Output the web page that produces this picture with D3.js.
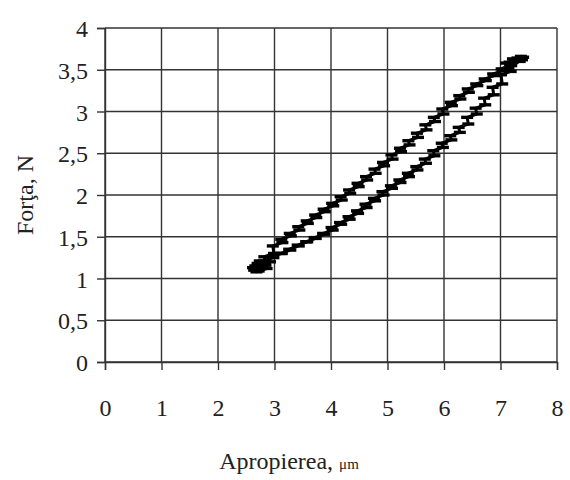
<!DOCTYPE html>
<html>
<head>
<meta charset="utf-8">
<script src="https://cdn.jsdelivr.net/npm/d3@7"></script>
<style>
  body { margin: 0; background: #fff; }
  text { font-family: "Liberation Serif", "Times New Roman", Times, serif; fill: #222; }
</style>
</head>
<body>
<div id="chart"></div>
<script>
// axis ticks
const xTicks = [0, 1, 2, 3, 4, 5, 6, 7, 8];
const yTicks = [0, 0.5, 1, 1.5, 2, 2.5, 3, 3.5, 4];

// upper branch of the loop (x in µm, y in N)
const upperBranch = [
  [2.67, 1.12], [2.84, 1.16], [2.82, 1.26], [2.99, 1.30], [2.97, 1.39], [3.14, 1.43],
  [3.12, 1.47], [3.29, 1.51], [3.27, 1.54], [3.44, 1.58], [3.42, 1.62], [3.59, 1.66],
  [3.57, 1.69], [3.74, 1.73], [3.72, 1.76], [3.89, 1.80], [3.87, 1.83], [4.04, 1.87],
  [4.02, 1.90], [4.19, 1.94], [4.17, 1.98], [4.34, 2.02], [4.32, 2.06], [4.49, 2.10],
  [4.47, 2.14], [4.64, 2.18], [4.62, 2.22], [4.79, 2.26], [4.77, 2.31], [4.94, 2.35],
  [4.92, 2.39], [5.09, 2.43], [5.07, 2.48], [5.24, 2.52], [5.22, 2.56], [5.39, 2.60],
  [5.37, 2.65], [5.54, 2.69], [5.52, 2.74], [5.69, 2.78], [5.67, 2.84], [5.84, 2.88],
  [5.82, 2.93], [5.99, 2.97], [5.97, 3.03], [6.14, 3.07], [6.12, 3.11], [6.29, 3.15],
  [6.27, 3.19], [6.44, 3.23], [6.42, 3.27], [6.59, 3.31], [6.57, 3.33], [6.74, 3.37],
  [6.72, 3.39], [6.89, 3.43], [6.87, 3.45], [7.04, 3.49], [7.02, 3.51], [7.19, 3.55],
  [7.17, 3.56], [7.34, 3.60], [7.22, 3.63], [7.40, 3.65], [7.28, 3.61], [7.36, 3.66],
  [7.10, 3.58], [7.30, 3.64], [7.14, 3.52], [7.38, 3.62]
];

// lower branch, going back down
const lowerBranch = [
  [7.33, 3.63], [7.16, 3.59], [7.18, 3.48], [7.01, 3.44], [7.03, 3.33], [6.86, 3.29],
  [6.88, 3.20], [6.71, 3.16], [6.73, 3.08], [6.56, 3.04], [6.58, 2.97], [6.41, 2.93],
  [6.43, 2.85], [6.26, 2.81], [6.28, 2.75], [6.11, 2.71], [6.13, 2.66], [5.96, 2.62],
  [5.98, 2.57], [5.81, 2.53], [5.83, 2.47], [5.66, 2.43], [5.68, 2.38], [5.51, 2.34],
  [5.53, 2.30], [5.36, 2.26], [5.38, 2.22], [5.21, 2.18], [5.23, 2.15], [5.06, 2.11],
  [5.08, 2.08], [4.91, 2.04], [4.93, 2.00], [4.76, 1.96], [4.78, 1.93], [4.61, 1.89],
  [4.63, 1.85], [4.46, 1.81], [4.48, 1.78], [4.31, 1.74], [4.33, 1.71], [4.16, 1.67],
  [4.18, 1.65], [4.01, 1.61], [4.03, 1.58], [3.86, 1.54], [3.88, 1.53], [3.71, 1.49],
  [3.73, 1.48], [3.56, 1.44], [3.58, 1.44], [3.41, 1.40], [3.43, 1.39], [3.26, 1.35],
  [3.28, 1.34], [3.11, 1.30], [3.13, 1.30], [2.96, 1.26], [2.98, 1.25], [2.81, 1.21],
  [2.83, 1.19], [2.66, 1.15], [2.72, 1.09], [2.62, 1.13], [2.78, 1.17], [2.68, 1.08],
  [2.86, 1.12], [2.70, 1.18], [2.92, 1.20], [2.64, 1.10], [2.80, 1.13], [2.74, 1.21]
];

const width = 570, height = 480;
const margin = {top: 28, right: 13, bottom: 118, left: 105};
const innerW = width - margin.left - margin.right;
const innerH = height - margin.top - margin.bottom;
const serif = '"Liberation Serif", "Times New Roman", Times, serif';

const svg = d3.select('#chart').append('svg')
    .attr('width', width)
    .attr('height', height);

const g = svg.append('g')
    .attr('transform', `translate(${margin.left},${margin.top})`);

const x = d3.scaleLinear().domain([0, 8]).range([0, innerW]);
const y = d3.scaleLinear().domain([0, 4]).range([innerH, 0]);

const comma = d => String(d).replace('.', ',');

// grid
g.append('g').selectAll('line')
  .data(yTicks)
  .join('line')
    .attr('x1', 0).attr('x2', innerW)
    .attr('y1', d => y(d)).attr('y2', d => y(d))
    .attr('stroke', '#333').attr('stroke-width', 1.4);

g.append('g').selectAll('line')
  .data(xTicks)
  .join('line')
    .attr('x1', d => x(d)).attr('x2', d => x(d))
    .attr('y1', 0).attr('y2', innerH)
    .attr('stroke', '#333').attr('stroke-width', 1.4);

// axes
const xAxis = d3.axisBottom(x).tickValues(xTicks).tickSize(8).tickPadding(29).tickFormat(d => d);
const yAxis = d3.axisLeft(y).tickValues(yTicks).tickSize(8).tickPadding(9).tickFormat(comma);

g.append('g')
    .attr('transform', `translate(0,${innerH})`)
    .call(xAxis)
    .attr('font-family', serif)
    .call(a => a.selectAll('line, path').attr('stroke', '#333').attr('stroke-width', 1.4))
    .call(a => a.selectAll('text').attr('font-size', 24).attr('fill', '#222'));

g.append('g')
    .call(yAxis)
    .attr('font-family', serif)
    .call(a => a.selectAll('line, path').attr('stroke', '#333').attr('stroke-width', 1.4))
    .call(a => a.selectAll('text').attr('font-size', 24).attr('fill', '#222').attr('dy', '0.36em'));

g.selectAll('.tick text').style('font-family', serif);

// loop
const line = d3.line().x(d => x(d[0])).y(d => y(d[1]));
const loop = upperBranch.concat(lowerBranch);

g.append('path')
    .datum(loop)
    .attr('d', line)
    .attr('fill', 'none')
    .attr('stroke', '#000')
    .attr('stroke-width', 3)
    .attr('stroke-linejoin', 'round');

// dash markers
g.append('g').selectAll('line')
  .data(loop)
  .join('line')
    .attr('x1', d => x(d[0]) - 6).attr('x2', d => x(d[0]) + 6)
    .attr('y1', d => y(d[1])).attr('y2', d => y(d[1]))
    .attr('stroke', '#000')
    .attr('stroke-width', 3.4);

// titles
svg.append('text')
    .attr('transform', `translate(33,195) rotate(-90)`)
    .attr('text-anchor', 'middle')
    .attr('font-size', 24)
    .text('Forţa, N');

const xt = svg.append('text')
    .attr('x', 289)
    .attr('y', 469)
    .attr('text-anchor', 'middle')
    .attr('font-size', 24);
xt.append('tspan').text('Apropierea, ');
xt.append('tspan').attr('font-size', 15).text('μm');
</script>
</body>
</html>
